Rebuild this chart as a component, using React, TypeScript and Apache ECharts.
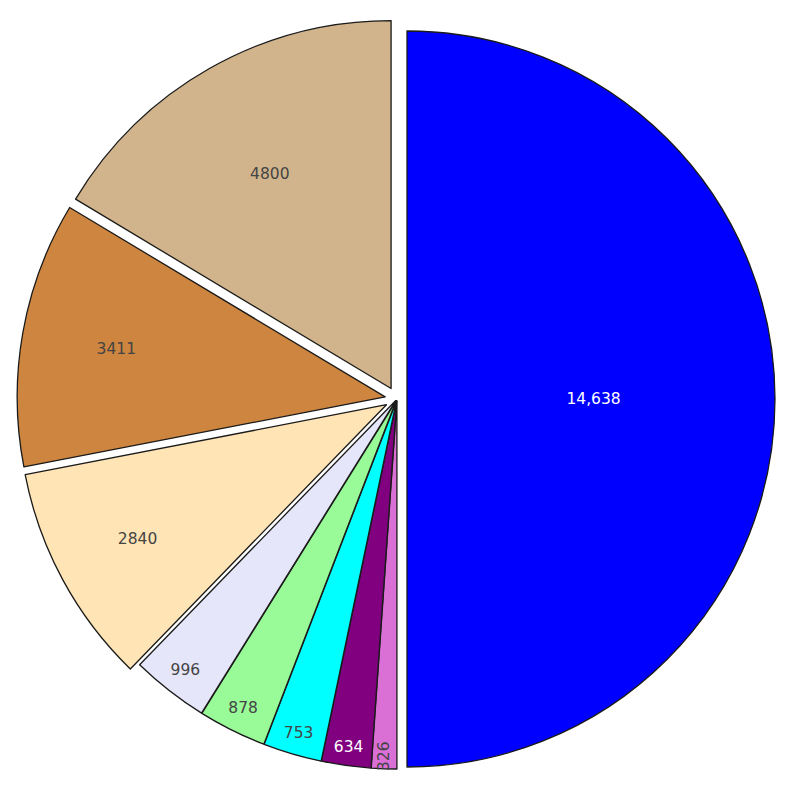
import React, { useEffect, useRef } from 'react';
import * as echarts from 'echarts';

// Data (clockwise from 12 o'clock)
const categories = ['Item 1', 'Item 2', 'Item 3', 'Item 4', 'Item 5', 'Item 6', 'Item 7', 'Item 8', 'Item 9'];
const values = [14638, 326, 634, 753, 878, 996, 2840, 3411, 4800];
const labelTexts = ['14,638', '326', '634', '753', '878', '996', '2840', '3411', '4800'];

// Styles
const colors = ['#0000ff', '#da70d6', '#800080', '#00ffff', '#98fb98', '#e6e6fa', '#ffe4b5', '#cd853f', '#d2b48c'];
const labelColors = ['#ffffff', '#444444', '#ffffff', '#444444', '#444444', '#444444', '#444444', '#444444', '#444444'];
const pulls = [10, 2, 2, 2, 2, 2, 12, 12, 12];
const labelRadii = [0.507, 0.966, 0.95, 0.94, 0.933, 0.929, 0.769, 0.742, 0.669];
const labelRotations = [0, 90, 0, 0, 0, 0, 0, 0, 0];

const CX = 397;
const CY = 399;
const R = 368;

export default function App() {
  const ref = useRef<HTMLDivElement>(null);

  useEffect(() => {
    if (!ref.current) return;
    const chart = echarts.init(ref.current, undefined, { renderer: 'svg' });
    const total = values.reduce((a, b) => a + b, 0);
    const mids: number[] = [];
    let acc = 0;
    values.forEach((v) => {
      mids.push(((acc + v / 2) / total) * Math.PI * 2);
      acc += v;
    });

    const series = values.map((_, i) => {
      const a = mids[i];
      const sx = Math.sin(a);
      const sy = -Math.cos(a);
      const ccx = CX + pulls[i] * sx;
      const ccy = CY + pulls[i] * sy;
      const lx = ccx + labelRadii[i] * R * sx;
      const ly = ccy + labelRadii[i] * R * sy;
      return {
        type: 'pie',
        center: [ccx, ccy],
        radius: R,
        startAngle: 90,
        clockwise: true,
        minAngle: 0,
        avoidLabelOverlap: false,
        silent: true,
        emphasis: { disabled: true },
        labelLine: { show: false },
        label: {
          show: true,
          position: 'inside',
          fontFamily: 'DejaVu Sans',
          fontSize: 15.5,
          color: labelColors[i],
          rotate: labelRotations[i],
          formatter: () => labelTexts[i],
        },
        labelLayout: (p: any) =>
          p.dataIndex === i
            ? { x: lx, y: ly, align: 'center', verticalAlign: 'middle', rotate: labelRotations[i] }
            : {},
        data: values.map((v, j) => ({
          name: categories[j],
          value: v,
          itemStyle:
            j === i
              ? { color: colors[j], borderColor: '#1a1a1a', borderWidth: 1.3 }
              : { color: 'rgba(0,0,0,0)', borderWidth: 0 },
          label: { show: j === i },
          labelLine: { show: false },
        })),
      };
    });

    chart.setOption({
      animation: false,
      backgroundColor: '#ffffff',
      series,
    } as any);
    return () => chart.dispose();
  }, []);

  return (
    <div
      ref={ref}
      style={{ position: 'absolute', left: 0, top: 0, width: 800, height: 801 }}
    />
  );
}
